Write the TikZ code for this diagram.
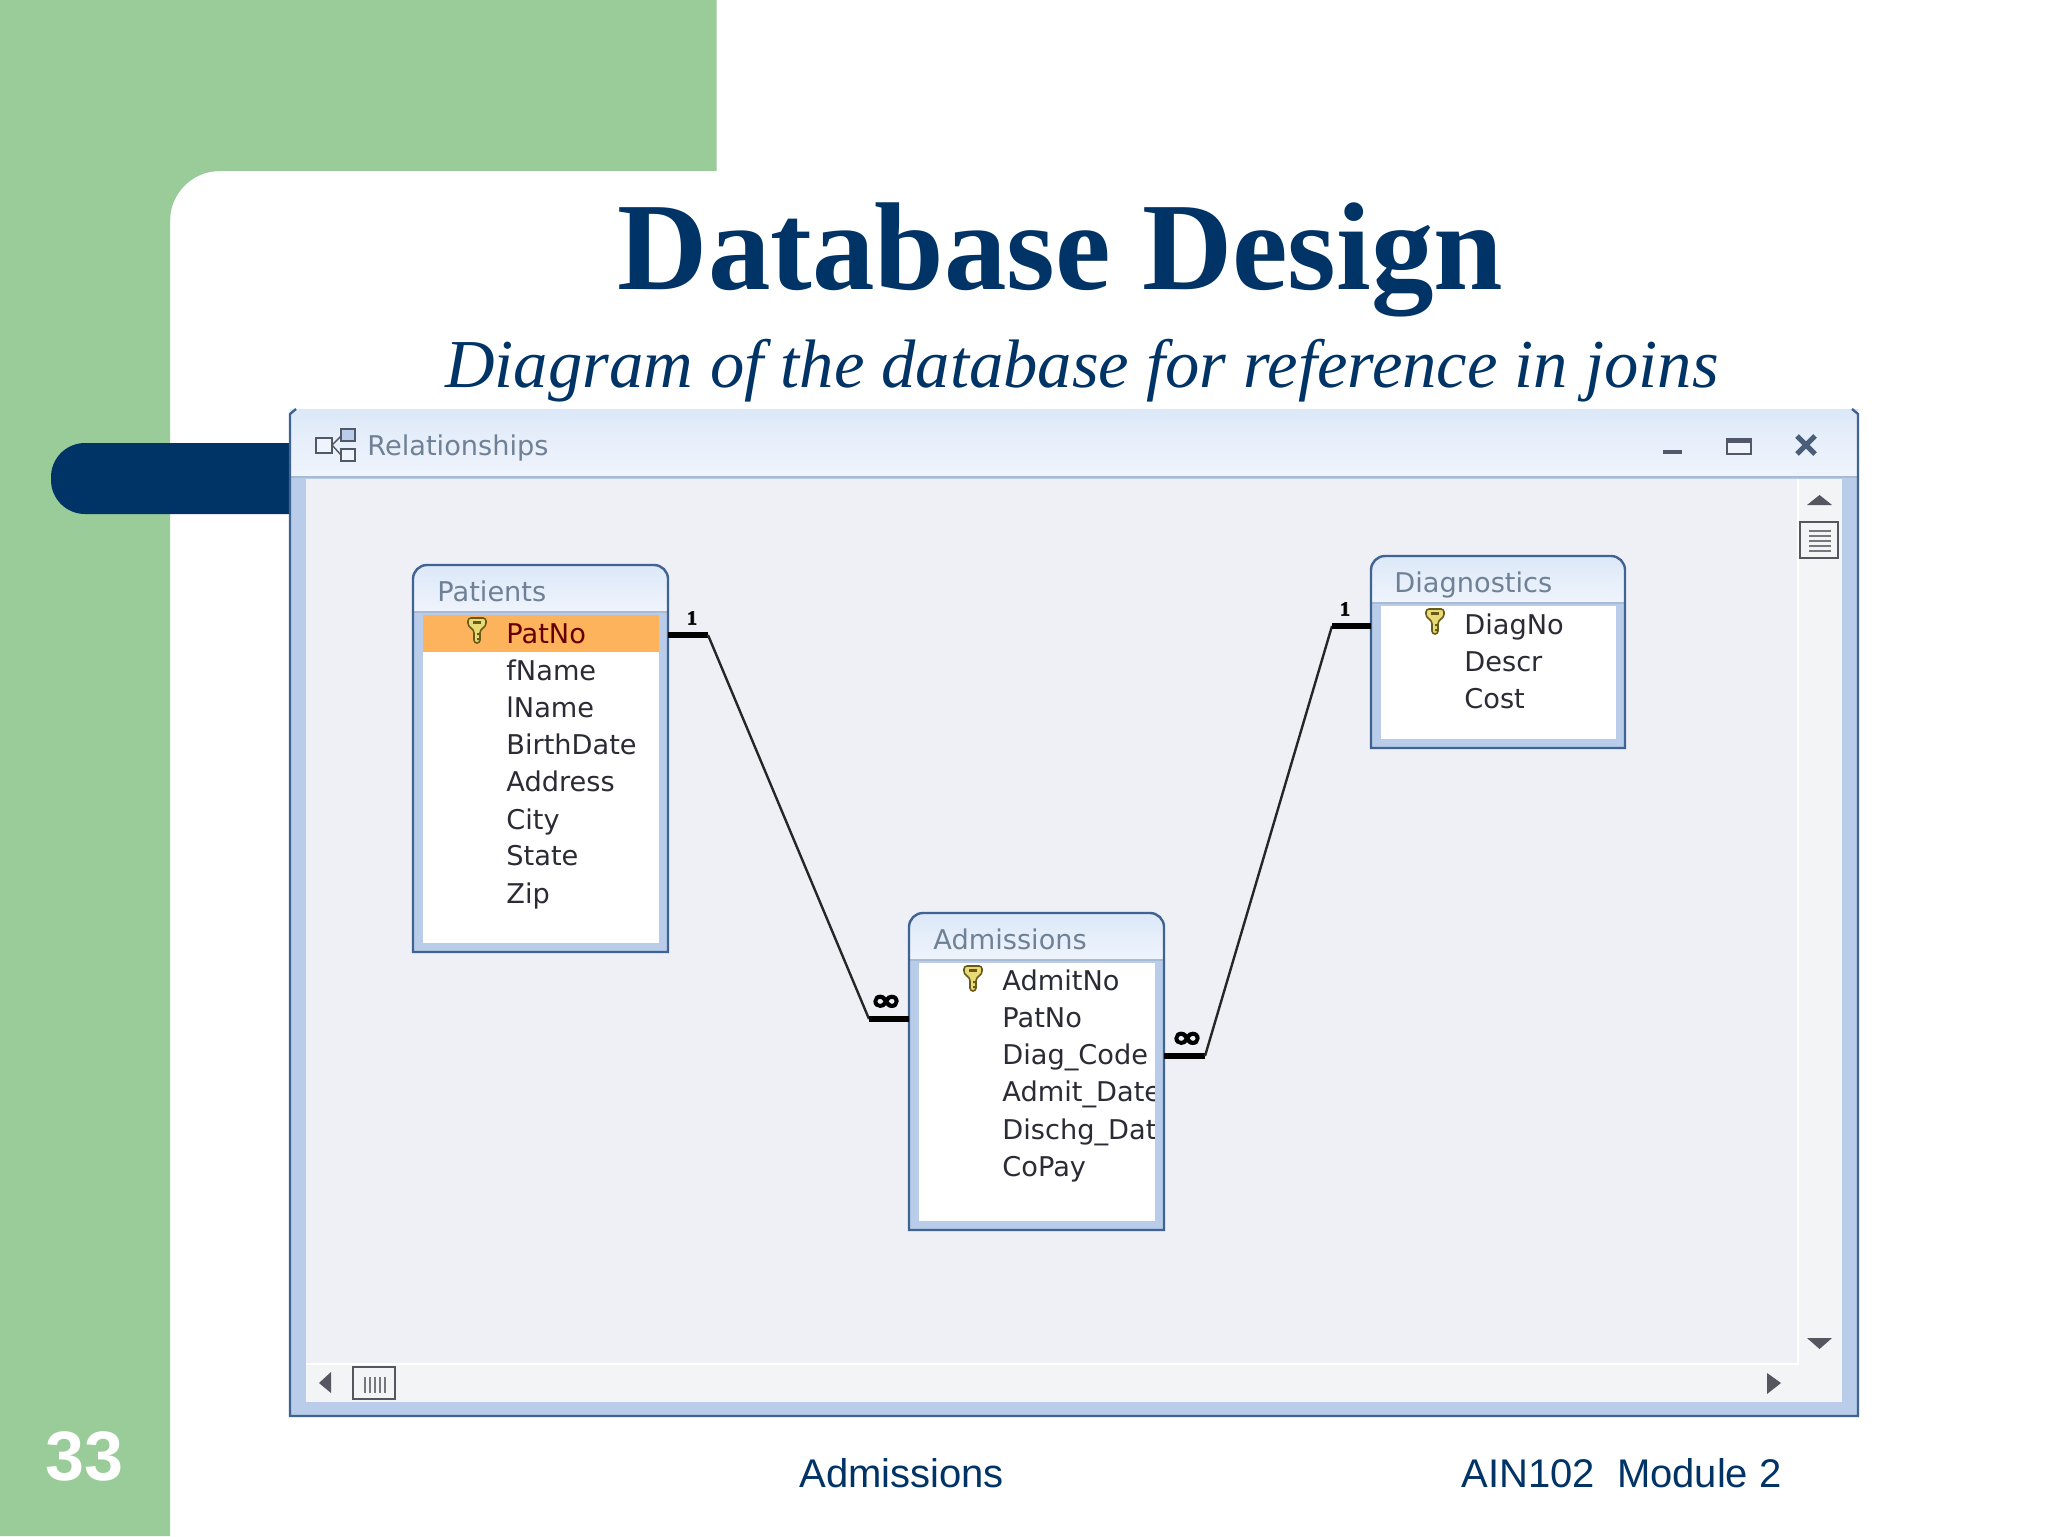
\documentclass[tikz,border=0pt]{standalone}
\usepackage{fontspec}
\setmainfont{Liberation Serif}
\newfontfamily\arialf{Liberation Sans}
\newfontfamily\uif{DejaVu Sans}
\newfontfamily\uifat[FakeBold=7,FakeStretch=1.25]{DejaVu Sans}
\newfontfamily\cardf[FakeBold=3]{Liberation Serif}
\definecolor{slidegreen}{HTML}{99CC99}
\definecolor{navy}{HTML}{003366}
\definecolor{strip}{HTML}{B9CDEA}
\definecolor{winedge}{HTML}{3F6392}
\definecolor{canvasc}{HTML}{EEF0F6}
\definecolor{barc}{HTML}{F3F4F6}
\definecolor{headtop}{HTML}{DCE8F8}
\definecolor{headbot}{HTML}{EFF4FC}
\definecolor{rule}{HTML}{A9BBD2}
\definecolor{greytxt}{HTML}{6F8196}
\definecolor{rowtxt}{HTML}{2B2B35}
\definecolor{iconc}{HTML}{55565F}
\definecolor{rowhi}{HTML}{FCB35C}
\definecolor{keyfill}{HTML}{E9DA78}
\definecolor{keyline}{HTML}{6A5A18}
\tikzset{
  x=0.5pt,y=-0.5pt,
  rowtext/.style={anchor=base west,inner sep=0,text=rowtxt,font=\uif\fontsize{13.6}{15}\selectfont},
  headtext/.style={rowtext,text=greytxt},
  relthin/.style={draw=black!85,line width=1.2pt},
  relthick/.style={draw=black,line width=2.9pt},
  cardone/.style={inner sep=0,font=\cardf\bfseries\fontsize{10}{11}\selectfont},
  cardmany/.style={inner sep=0,font=\uifat\fontsize{15}{15}\selectfont},
  frameedge/.style={draw=winedge,line width=1.2pt},
  anchorbox/.style={inner sep=0,outer sep=0,anchor=north west},
  uiarrow/.style={fill=iconc,draw=none},
  thumb/.style={draw=iconc,line width=.9pt,fill=barc},
  thumbline/.style={draw=iconc!80,line width=.7pt},
  icbox/.style={draw=iconc!80!winedge,line width=.8pt,fill=headbot}
}
% name x1 y1 x2 y2 yhead title titlex titlebaseline
\newcommand{\tablebox}[9]{%
  \pgfmathsetmacro{\tw}{(#4-#2)*0.5}%
  \pgfmathsetmacro{\th}{(#5-#3)*0.5}%
  \pgfmathsetmacro{\inl}{#2+10}%
  \pgfmathsetmacro{\inr}{#4-9}%
  \pgfmathsetmacro{\inb}{#5-9}%
  \pgfmathsetmacro{\inh}{#6+3}%
  \fill[strip] (#2,#6) rectangle (#4,#5);
  \shade[top color=headtop,bottom color=headbot] (#2,#6) [rounded corners=7pt] -- (#2,#3) -- (#4,#3) -- (#4,#6-1) [sharp corners] -- (#4,#6) -- cycle;
  \fill[white] (\inl,\inh) rectangle (\inr,\inb);
  \draw[rule,line width=.8pt] (#2,#6) -- (#4,#6);
  \node[anchorbox,minimum width=\tw pt,minimum height=\th pt] (#1) at (#2,#3) {};
  \draw[frameedge] (#2,#5) [rounded corners=7pt] -- (#2,#3) -- (#4,#3) -- (#4,#6) [sharp corners] -- (#4,#5) -- cycle;
  \node[headtext] (#1title) at (#8,#9) {#7};
}
\newcommand{\keyicon}[2]{%
  \begin{scope}[shift={(#1,#2)}]
    \draw[draw=keyline,line width=.8pt,fill=keyfill,rounded corners=1.5pt]
      (-9,0) -- (-9,-8) -- (9,-8) -- (9,0) -- (3,4) -- (3,17) -- (-3,17) -- (-3,4) -- cycle;
    \fill[keyline] (-4,-5) rectangle (4,-2);
    \fill[keyline] (0,7) rectangle (3,9) (0,12) rectangle (3,14);
  \end{scope}}
\begin{document}
\begin{tikzpicture}
\useasboundingbox (0,0) rectangle (2048,1536);
\fill[white] (0,0) rectangle (2048,1536);
% slide background
\fill[slidegreen] (0,0) rectangle (716.5,171) (0,171) rectangle (170,1536);
\fill[slidegreen] (170,171) -- (220,171) arc[start angle=90,end angle=180,x radius=50,y radius=-50] -- cycle;
\fill[navy,rounded corners=17pt] (51,443) rectangle (330,514);
% title
\node[anchor=base,inner sep=0,text=navy,font=\bfseries\fontsize{62.5}{70}\selectfont] (title) at (1060.5,289) {Database Design};
\node[anchor=base,inner sep=0,text=navy,font=\itshape\fontsize{34.3}{40}\selectfont] (subtitle) at (1082,387) {Diagram of the database for reference in joins};
% window
\fill[strip] (290,409) rectangle (1858,1416);
\shade[top color=headtop,bottom color=headbot,middle color=headbot!60!headtop] (290,409) rectangle (1858,477);
\draw[rule,line width=.9pt] (290,477) -- (1858,477);
\fill[canvasc] (306,479) rectangle (1798,1363);
\fill[barc] (1798,479) rectangle (1842,1402);
\fill[barc] (306,1363) rectangle (1842,1402);
\draw[white,line width=1pt] (306,1364) -- (1798,1364) -- (1798,479);
\draw[frameedge] (296,409) -- (290,414) -- (290,1416) -- (1858,1416) -- (1858,414) -- (1852,409);
\node[headtext] (wintitle) at (367,455) {Relationships};
% window icon
\draw[icbox] (316,438) rectangle (332,453);
\draw[icbox,fill=strip] (341,429) rectangle (355,441);
\draw[icbox] (341,449) rectangle (355,461);
\draw[iconc,line width=.7pt] (332,445) -- (341,436) (332,445) -- (341,455);
% window controls
\draw[iconc!80!winedge,line width=1.8pt] (1663,452) -- (1682,452);
\draw[icbox] (1727,439) rectangle (1751,454);
\fill[iconc!80!winedge] (1727,439) rectangle (1751,443);
\draw[iconc!50!winedge,line width=2.6pt] (1797,436) -- (1815,454) (1815,436) -- (1797,454);
% scroll bars
\fill[uiarrow] (1807,505) -- (1832,505) -- (1819.5,495) -- cycle;
\draw[thumb] (1800,522) rectangle (1838,558);
\draw[thumbline] (1809,531) -- (1831,531) (1809,536) -- (1831,536) (1809,541) -- (1831,541) (1809,546) -- (1831,546) (1809,551) -- (1831,551);
\fill[uiarrow] (1807,1338) -- (1832,1338) -- (1819.5,1349) -- cycle;
\fill[uiarrow] (331,1372) -- (331,1393) -- (319,1383) -- cycle;
\draw[thumb] (353,1367) rectangle (395,1399);
\draw[thumbline] (365,1377) -- (365,1393) (370,1377) -- (370,1393) (375,1377) -- (375,1393) (380,1377) -- (380,1393) (385,1377) -- (385,1393);
\fill[uiarrow] (1767,1373) -- (1767,1394) -- (1781,1383) -- cycle;
% tables
\tablebox{patients}{413}{565}{668}{952}{612}{Patients}{437}{601}
\fill[rowhi] (423,615) rectangle (659,652);
\keyicon{477}{626}
\node[rowtext,text=red!40!black] (pa1) at (506,643) {PatNo};
\node[rowtext] (pa2) at (506,680) {fName};
\node[rowtext] (pa3) at (506,717) {lName};
\node[rowtext] (pa4) at (506,754) {BirthDate};
\node[rowtext] (pa5) at (506,791) {Address};
\node[rowtext] (pa6) at (506,829) {City};
\node[rowtext] (pa7) at (506,865) {State};
\node[rowtext] (pa8) at (506,903) {Zip};
\tablebox{admissions}{909}{913}{1164}{1230}{960}{Admissions}{933}{949}
\keyicon{973}{974}
\node[rowtext] (ad1) at (1002,990) {AdmitNo};
\node[rowtext] (ad2) at (1002,1027) {PatNo};
\node[rowtext] (ad3) at (1002,1064) {Diag\_Code};
\begin{scope}
\clip (1002,1075) rectangle (1154,1150);
\node[rowtext] (ad4) at (1002,1101) {Admit\_Date};
\node[rowtext] (ad5) at (1002,1139) {Dischg\_Date};
\end{scope}
\node[rowtext] (ad6) at (1002,1176) {CoPay};
\tablebox{diagnostics}{1371}{556}{1625}{748}{603}{Diagnostics}{1394}{592}
\keyicon{1435}{617}
\node[rowtext] (di1) at (1464,634) {DiagNo};
\node[rowtext] (di2) at (1464,671) {Descr};
\node[rowtext] (di3) at (1464,708) {Cost};
% connectors
\coordinate (b1) at (708,635);
\coordinate (b2) at (869,1019);
\coordinate (b3) at (1205,1056);
\coordinate (b4) at (1332,626);
\draw[relthick] (patients.east |- b1) -- (b1);
\draw[relthin] (b1) -- (b2);
\draw[relthick] (b2) -- (admissions.west |- b2);
\draw[relthick] (admissions.east |- b3) -- (b3);
\draw[relthin] (b3) -- (b4);
\draw[relthick] (b4) -- (diagnostics.west |- b4);
\node[cardone] (c1) at (692,618) {1};
\node[cardone] (c2) at (1345,609) {1};
\node[cardmany] (c3) at (886,1003) {∞};
\node[cardmany] (c4) at (1187,1040) {∞};
% footer
\node[anchor=base west,inner sep=0,text=white,font=\arialf\bfseries\fontsize{35}{40}\selectfont] (pageno) at (45,1480) {33};
\node[anchor=base west,inner sep=0,text=navy,font=\arialf\fontsize{20}{24}\selectfont] (foot1) at (799,1487) {Admissions};
\node[anchor=base west,inner sep=0,text=navy,font=\arialf\fontsize{20}{24}\selectfont] (foot2) at (1461,1487) {AIN102\ \ Module 2};
\end{tikzpicture}
\end{document}
